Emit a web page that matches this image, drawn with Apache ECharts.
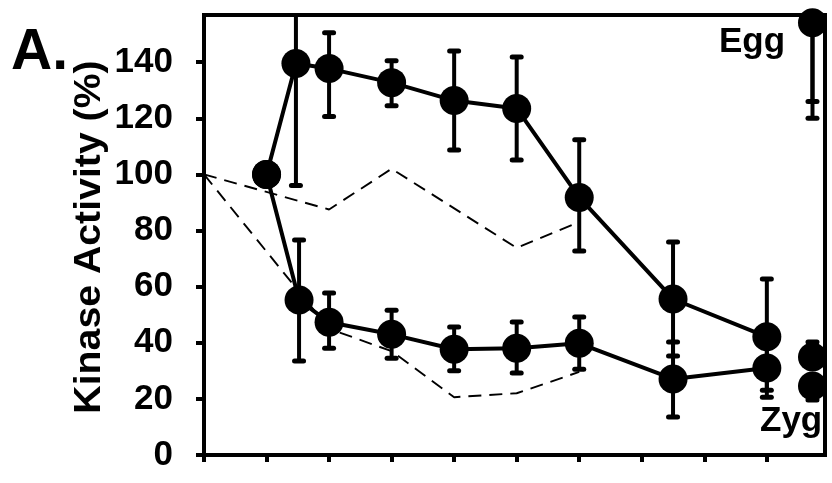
<!DOCTYPE html>
<html>
<head>
<meta charset="utf-8">
<script src="https://cdn.jsdelivr.net/npm/echarts@6/dist/echarts.min.js"></script>
<style>
  html, body { margin: 0; padding: 0; background: #fff; }
  #chart { width: 832px; height: 483px; }
</style>
</head>
<body>
<div id="chart"></div>
<script>
// ---- data ----
const yTicks = [0, 20, 40, 60, 80, 100, 120, 140];
const xTicks = [0, 1, 2, 3, 4, 5, 6, 7, 8, 9];

const upperX = [1, 1.47, 2, 3, 4, 5, 6, 7.5, 9];
const upperY = [100, 139.5, 137.7, 132.7, 126.3, 123.5, 91.8, 55.6, 42.1];
const upperErrLow = [null, 96, 120.6, 124.5, 108.7, 105.1, 72.7, 35.3, 23.1];
const upperErrHigh = [null, 184, 150.5, 140.5, 144, 141.8, 112.3, 75.9, 62.7];

const lowerX = [1, 1.52, 2, 3, 4, 5, 6, 7.5, 9];
const lowerY = [100, 55.2, 47.3, 43, 37.7, 38, 39.8, 27.1, 31];
const lowerErrLow = [null, 33.5, 38, 34.5, 30, 29.2, 30.6, 13.5, 20.6];
const lowerErrHigh = [null, 76.6, 57.7, 51.6, 45.6, 47.4, 49.2, 40.3, 40];

const endX = 9.73;
const eggY = [154];
const eggErrLow = [126, 120];
const zygY = [34.9, 24.6];
const zygErrHigh = [40.3];
const zygErrLow = [19.6];

const dashUpperX = [0, 2, 3, 5, 6];
const dashUpperY = [100, 87.5, 102, 73.8, 83];
const dashLowerX = [0, 2, 3, 4, 5, 6];
const dashLowerY = [100, 45, 37, 20.6, 22, 29.6];

const yAxisTitle = 'Kinase Activity (%)';

// ---- build series data ----
const zip = (xs, ys) => xs.map((x, i) => [x, ys[i]]);
const errData = [];
upperX.forEach((x, i) => { if (upperErrLow[i] != null) errData.push([x, upperErrLow[i], upperErrHigh[i]]); });
lowerX.forEach((x, i) => { if (lowerErrLow[i] != null) errData.push([x, lowerErrLow[i], lowerErrHigh[i]]); });
eggErrLow.forEach(v => errData.push([endX, v, eggY[0]]));
errData.push([endX, zygY[0], zygErrHigh[0]]);
errData.push([endX, zygErrLow[0], zygY[1]]);

const FONT = '"Liberation Sans", Arial, Helvetica, sans-serif';

const chart = echarts.init(document.getElementById('chart'), null, { renderer: 'canvas' });

function renderErr(params, api) {
  const x = api.value(0), lo = api.value(1), hi = api.value(2);
  const pLo = api.coord([x, lo]);
  const pHi = api.coord([x, hi]);
  const cs = params.coordSys;
  const top = cs.y, bottom = cs.y + cs.height;
  const children = [];
  const yHi = Math.max(pHi[1], top);
  const yLo = Math.min(pLo[1], bottom);
  const st = { stroke: '#000', lineWidth: 4, lineCap: 'butt' };
  children.push({ type: 'line', shape: { x1: pLo[0], y1: yLo, x2: pLo[0], y2: yHi }, style: st });
  const cw = 6.5;
  const capSt = { stroke: '#000', lineWidth: 5, lineCap: 'round' };
  if (pHi[1] >= top) children.push({ type: 'line', shape: { x1: pHi[0] - cw + 2, y1: pHi[1], x2: pHi[0] + cw - 2, y2: pHi[1] }, style: capSt });
  if (pLo[1] <= bottom) children.push({ type: 'line', shape: { x1: pLo[0] - cw + 2, y1: pLo[1], x2: pLo[0] + cw - 2, y2: pLo[1] }, style: capSt });
  return { type: 'group', children };
}

const option = {
  backgroundColor: '#fff',
  animation: false,
  grid: {
    left: 204, right: 7, top: 15, bottom: 28,
    show: true, borderColor: '#000', borderWidth: 4, backgroundColor: 'transparent'
  },
  xAxis: {
    type: 'value', min: 0, max: 9.93, interval: 1,
    axisLine: { show: true, onZero: false, lineStyle: { color: '#000', width: 4 } },
    axisTick: { show: true, inside: false, length: 7, customValues: xTicks, lineStyle: { color: '#000', width: 4 } },
    axisLabel: { show: false },
    splitLine: { show: false }
  },
  yAxis: {
    type: 'value', min: 0, max: 156.8, interval: 20,
    axisLine: { show: true, lineStyle: { color: '#000', width: 4 } },
    axisTick: { show: true, inside: false, length: 8, customValues: yTicks, lineStyle: { color: '#000', width: 4 } },
    axisLabel: { show: true, customValues: yTicks, margin: 31, fontFamily: FONT, fontWeight: 'bold', fontSize: 35, color: '#000' },
    splitLine: { show: false }
  },
  graphic: [
    { type: 'text', x: 11, y: 53, style: { text: 'A.', font: 'bold 57px ' + FONT, fill: '#000', align: 'left', verticalAlign: 'middle' } },
    { type: 'text', x: 90, y: 237, rotation: Math.PI / 2, scaleX: 1.09,
      style: { text: yAxisTitle, font: 'bold 36px ' + FONT, fill: '#000', align: 'center', verticalAlign: 'middle' } },
    { type: 'text', x: 719, y: 42, style: { text: 'Egg', font: 'bold 35px ' + FONT, fill: '#000', align: 'left', verticalAlign: 'middle' } },
    { type: 'text', x: 760, y: 421, style: { text: 'Zyg', font: 'bold 35px ' + FONT, fill: '#000', align: 'left', verticalAlign: 'middle' } }
  ],
  series: [
    {
      type: 'line', data: zip(dashUpperX, dashUpperY), symbol: 'none', silent: true, z: 1,
      lineStyle: { color: '#000', width: 1.9, type: [13, 8] }
    },
    {
      type: 'line', data: zip(dashLowerX, dashLowerY), symbol: 'none', silent: true, z: 1,
      lineStyle: { color: '#000', width: 1.9, type: [13, 8] }
    },
    {
      type: 'custom', renderItem: renderErr, data: errData, z: 2, silent: true,
      encode: { x: 0, y: [1, 2] }
    },
    {
      type: 'line', data: zip(upperX, upperY), symbol: 'circle', symbolSize: 29, z: 3,
      itemStyle: { color: '#000', opacity: 1 }, lineStyle: { color: '#000', width: 4 }
    },
    {
      type: 'line', data: zip(lowerX, lowerY), symbol: 'circle', symbolSize: 29, z: 3,
      itemStyle: { color: '#000', opacity: 1 }, lineStyle: { color: '#000', width: 4 }
    },
    {
      type: 'scatter', data: eggY.map(v => [endX, v]).concat(zygY.map(v => [endX, v])),
      symbol: 'circle', symbolSize: 29, z: 3, clip: false, itemStyle: { color: '#000', opacity: 1 }
    }
  ]
};
chart.setOption(option);
</script>
</body>
</html>
